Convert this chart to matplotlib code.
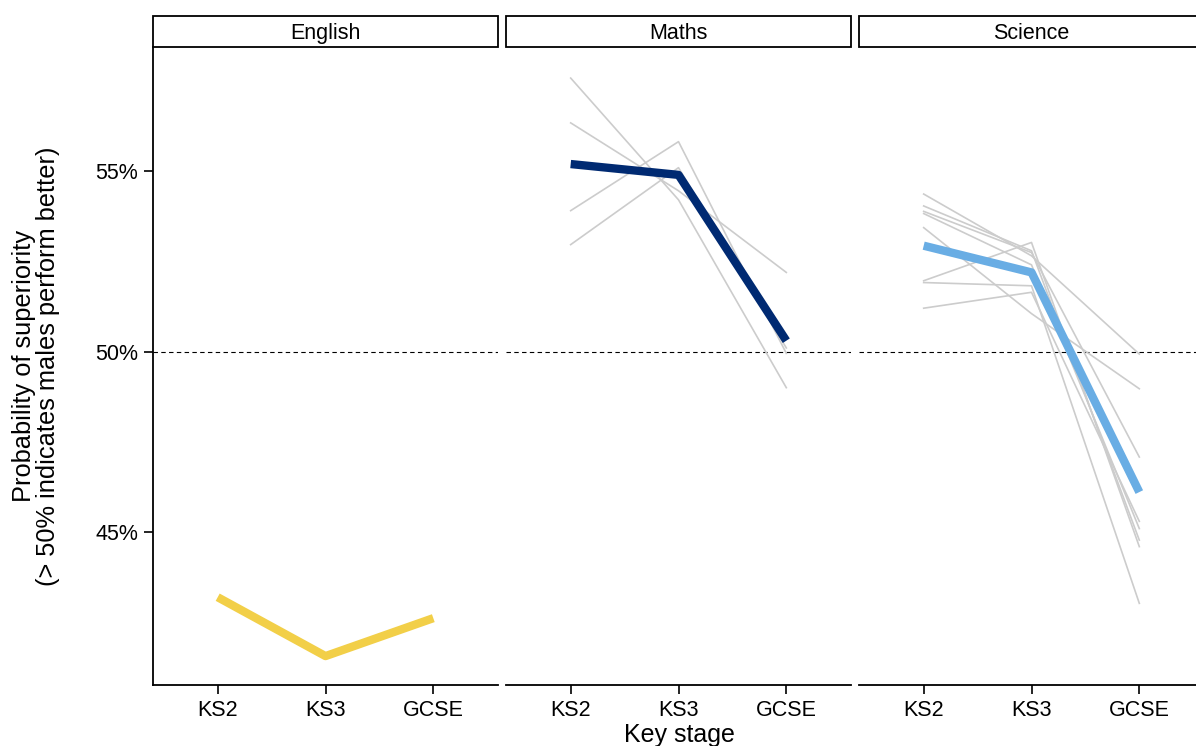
import matplotlib.pyplot as plt
from matplotlib.patches import Rectangle
from matplotlib.ticker import FuncFormatter

plt.rcParams['font.family'] = ['Liberation Sans', 'DejaVu Sans']

stages = ["KS2", "KS3", "GCSE"]
subjects = ["English", "Maths", "Science"]

# overall estimate per subject (probability of superiority)
english_main = [0.4320, 0.4157, 0.4262]
maths_main = [0.5519, 0.5489, 0.5030]
science_main = [0.5293, 0.5219, 0.4611]

# individual components (grey lines)
english_parts = []
maths_parts = [
    [0.5757, 0.5420, 0.4900],
    [0.5633, 0.5445, 0.5219],
    [0.5390, 0.5581, 0.4995],
    [0.5296, 0.5509, 0.5010],
]
science_parts = [
    [0.5436, 0.5265, 0.4993],
    [0.5403, 0.5279, 0.4478],
    [0.5388, 0.5274, 0.4708],
    [0.5382, 0.5240, 0.4510],
    [0.5343, 0.5105, 0.4897],
    [0.5196, 0.5302, 0.4460],
    [0.5191, 0.5182, 0.4303],
    [0.5120, 0.5164, 0.4530],
]

mains = [english_main, maths_main, science_main]
parts = [english_parts, maths_parts, science_parts]
colours = ["#F2CF48", "#002A72", "#69ADE4"]

W, H = 1196, 746
fig = plt.figure(figsize=(W / 100, H / 100), dpi=100)

panel_x = [153, 506, 859]
panel_w = 345
top_px, bot_px = 47, 685
strip_h = 31

for i, subj in enumerate(subjects):
    ax = fig.add_axes([panel_x[i] / W, 1 - bot_px / H, panel_w / W, (bot_px - top_px) / H])
    x = list(range(len(stages)))
    for p in parts[i]:
        ax.plot(x, p, color="#CCCCCC", lw=1.2, zorder=2)
    ax.plot(x, mains[i], color=colours[i], lw=6.0, zorder=3, solid_capstyle="butt")
    ax.axhline(0.5, color="black", lw=0.8, ls=(0, (4, 3)), zorder=1)
    ax.set_xlim(-0.6, 2.6)
    ax.set_ylim(0.4077, 0.5843)
    ax.set_xticks(x)
    ax.set_xticklabels(stages)
    ax.set_yticks([0.45, 0.50, 0.55])
    ax.yaxis.set_major_formatter(FuncFormatter(lambda v, _: f"{v * 100:.0f}%"))
    ax.tick_params(axis="both", length=6.5, width=1.2, labelsize=15.5, colors="black", pad=4)
    for s in ["top", "right"]:
        ax.spines[s].set_visible(False)
    ax.spines["bottom"].set_linewidth(1.3)
    ax.spines["left"].set_linewidth(1.3)
    if i > 0:
        ax.spines["left"].set_visible(False)
        ax.tick_params(axis="y", left=False, labelleft=False)
    # strip on top
    sh = strip_h / (bot_px - top_px)
    ax.add_patch(Rectangle((0, 1), 1, sh, transform=ax.transAxes, clip_on=False,
                           facecolor="white", edgecolor="black", lw=1.3))
    ax.text(0.5, 1 + sh * 0.45, subj, transform=ax.transAxes, ha="center", va="center",
            fontsize=15.5)

fig.text(36 / W, 1 - 366 / H, "Probability of superiority\n(> 50% indicates males perform better)",
         rotation=90, ha="center", va="center", fontsize=18.3, linespacing=1.05)
fig.text(679 / W, 1 - 735 / H, "Key stage", ha="center", va="center", fontsize=18)

fig.savefig("out.png", dpi=100)
